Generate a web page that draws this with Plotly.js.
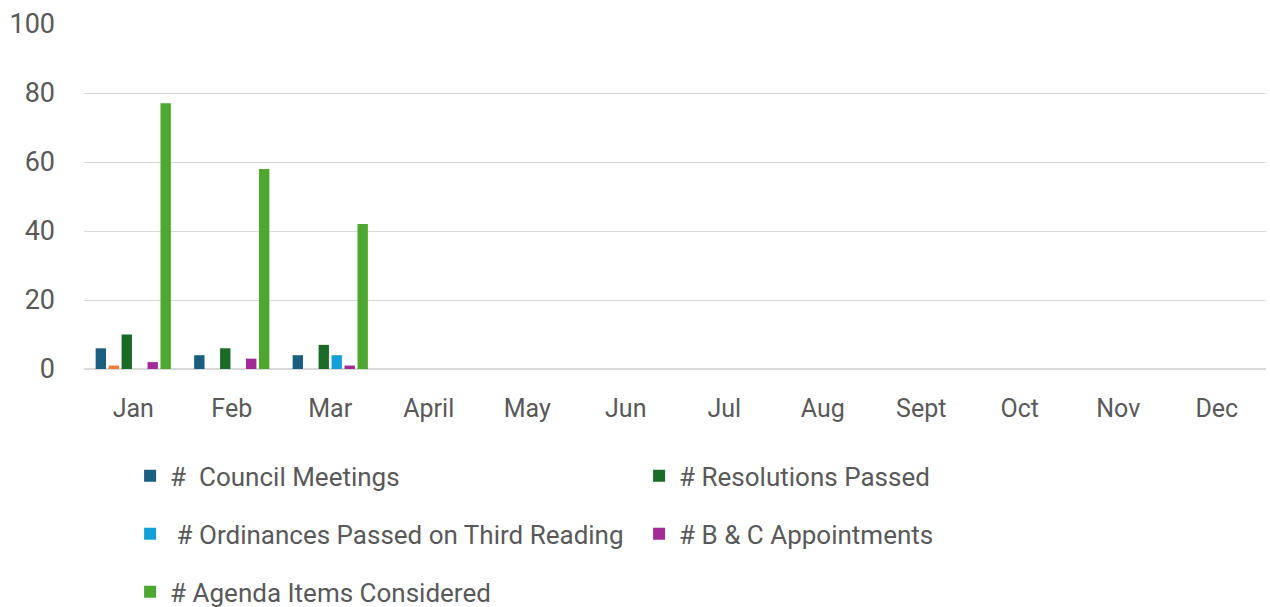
<!DOCTYPE html>
<html>
<head>
<meta charset="utf-8">
<script src="https://cdn.plot.ly/plotly-3.0.1.min.js"></script>
<style>html,body{margin:0;padding:0;background:#fff;}#chart{width:1270px;height:607px;}</style>
</head>
<body>
<div id="chart"></div>
<script>
const months = ["Jan","Feb","Mar","April","May","Jun","Jul","Aug","Sept","Oct","Nov","Dec"];
const councilMeetings = [6,4,4,null,null,null,null,null,null,null,null,null];
const unlabeledSeries = [1,0,0,null,null,null,null,null,null,null,null,null];
const resolutionsPassed = [10,6,7,null,null,null,null,null,null,null,null,null];
const ordinancesPassed = [0,0,4,null,null,null,null,null,null,null,null,null];
const bcAppointments = [2,3,1,null,null,null,null,null,null,null,null,null];
const agendaItems = [77,58,42,null,null,null,null,null,null,null,null,null];
const yTicks = [0,20,40,60,80,100];

const FONT = "Roboto, 'Liberation Sans', Arial, sans-serif";
const TXT = "#595959";

function bar(name, y, color, legend, show) {
  return {type:"bar", x:months, y:y, name:name, marker:{color:color},
          legend:legend, showlegend:show, hoverinfo:"x+y+name"};
}
const data = [
  bar("#  Council Meetings", councilMeetings, "#1a5e80", "legend", true),
  bar("", unlabeledSeries, "#ee7f3b", "legend", false),
  bar("# Resolutions Passed", resolutionsPassed, "#1a6b27", "legend", true),
  bar(" # Ordinances Passed on Third Reading", ordinancesPassed, "#149fd8", "legend2", true),
  bar("# B & C Appointments", bcAppointments, "#a22b96", "legend2", true),
  bar("# Agenda Items Considered", agendaItems, "#4ea72e", "legend3", true)
];

const legendBase = {orientation:"h", x:0.039, xanchor:"left", yanchor:"middle",
  font:{family:FONT, size:26, color:TXT}, entrywidth:464, entrywidthmode:"pixels",
  bgcolor:"rgba(0,0,0,0)", itemclick:false, itemdoubleclick:false};

const layout = {
  width:1270, height:607,
  margin:{l:84, r:4, t:24, b:238, autoexpand:false},
  paper_bgcolor:"#ffffff", plot_bgcolor:"#ffffff",
  barmode:"group", bargap:0.21, bargroupgap:0.2,
  font:{family:FONT, size:24, color:TXT},
  xaxis:{type:"category", categoryarray:months, showgrid:false, showline:false, zeroline:false,
         ticks:"", tickfont:{family:FONT, size:25, color:TXT}, ticklabelstandoff:22, automargin:false},
  yaxis:{range:[0,100], tickvals:yTicks, ticktext:yTicks.map(String), showgrid:true, gridcolor:"#d9d9d9",
         gridwidth:1.3, zeroline:true, zerolinecolor:"#d9d9d9", zerolinewidth:2, showline:false, ticks:"",
         tickfont:{family:FONT, size:27, color:TXT}, ticklabelstandoff:28, fixedrange:true, automargin:false},
  legend: Object.assign({}, legendBase, {y:-0.310}),
  legend2: Object.assign({}, legendBase, {y:-0.478}),
  legend3: Object.assign({}, legendBase, {y:-0.646})
};
Plotly.newPlot("chart", data, layout, {displayModeBar:false, staticPlot:false});
</script>
</body>
</html>
